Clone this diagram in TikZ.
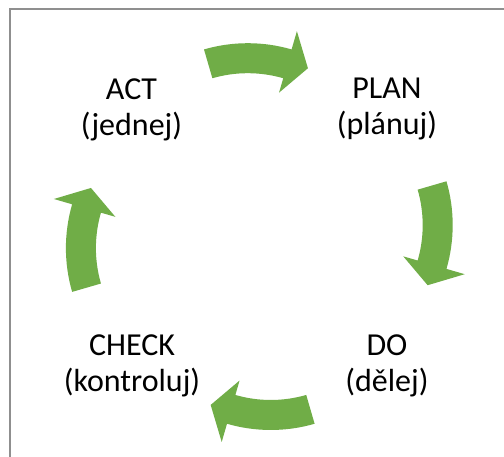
\documentclass[tikz,border=0pt]{standalone}
\usepackage{fontspec}
\setmainfont{Carlito}
\definecolor{cyclegreen}{HTML}{70AD47}
\definecolor{framegray}{HTML}{8F8F8F}
\begin{document}
\begin{tikzpicture}[x=1pt,y=1pt,
  phase/.style={align=center, anchor=base, inner sep=0pt,
    font=\fontsize{32}{36}\selectfont},
  cyclearrow/.style={fill=cyclegreen}]
\useasboundingbox (0,0) rectangle (504,457);
\fill[white] (0,0) rectangle (504,457);
% frame along the top and left edges
\draw[framegray, line width=2pt] (9.5,0) -- (9.5,447.5) -- (504,447.5);
% four curved block arrows, each a quarter turn from the previous one
\foreach \r in {0,-90,-180,-270}{
  \begin{scope}[shift={(259.3,220.4)}, rotate=\r, shift={(-11.5,36.4)}]
    \fill[cyclearrow] (106.2:157) arc[start angle=106.2, end angle=73.8, radius=157]
      -- (73.8:176) -- (65.5:145) -- (73.8:112) -- (73.8:127)
      arc[start angle=73.8, end angle=106.2, radius=127] -- cycle;
  \end{scope}
}
% phase labels (anchored at the baseline of the second line)
\node[phase] (act)   at (131.5,321) {ACT\\(jednej)};
\node[phase] (plan)  at (387,322)   {PLAN\\(plánuj)};
\node[phase] (check) at (132,65)    {CHECK\\(kontroluj)};
\node[phase] (do)    at (387,65)    {DO\\(dělej)};
\end{tikzpicture}
\end{document}
